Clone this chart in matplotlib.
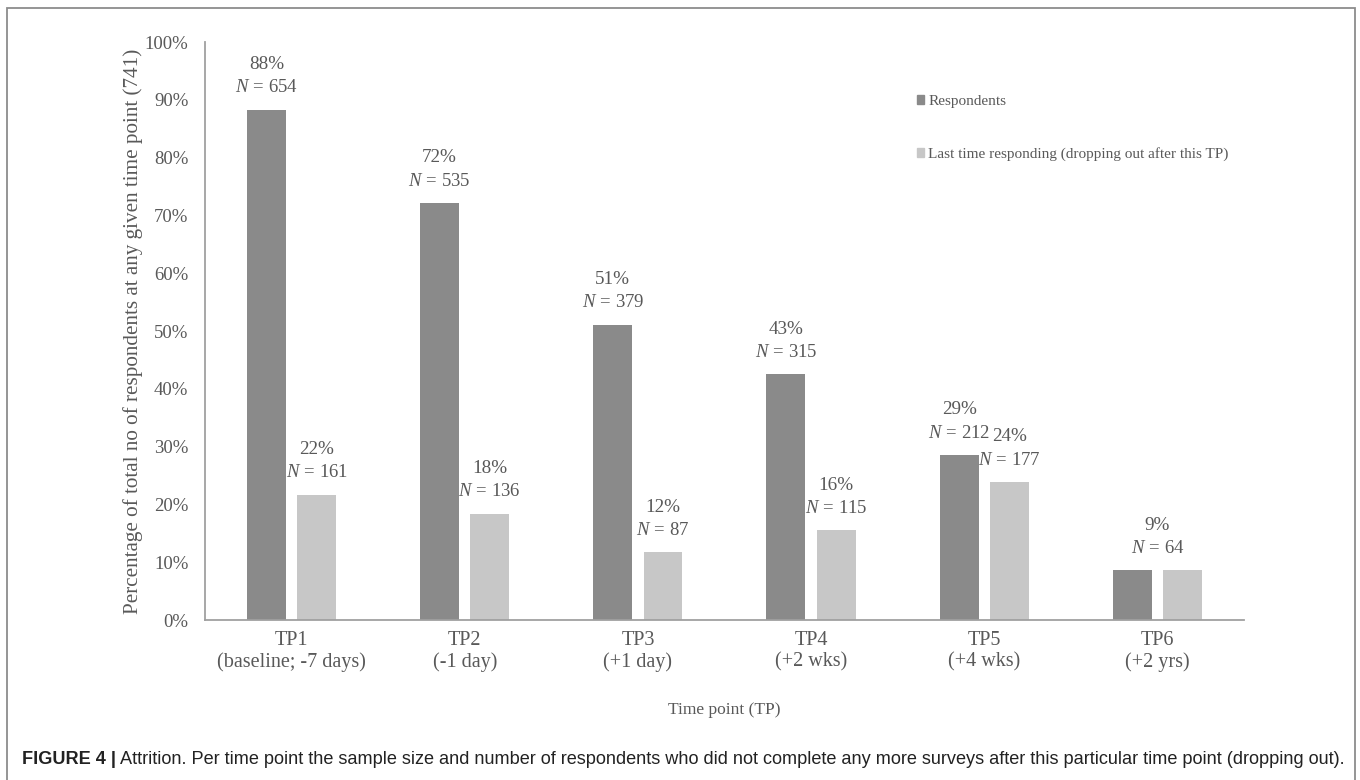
import matplotlib.pyplot as plt
import numpy as np
from matplotlib.patches import Patch, Rectangle

# values (percent of 741 respondents)
time_points = ["TP1\n(baseline; -7 days)", "TP2\n(-1 day)", "TP3\n(+1 day)",
               "TP4\n(+2 wks)", "TP5\n(+4 wks)", "TP6\n(+2 yrs)"]
respondents = [88.3, 72.2, 51.1, 42.5, 28.6, 8.6]
last_time = [21.7, 18.4, 11.7, 15.5, 23.9, 8.6]
resp_pct = ["88%", "72%", "51%", "43%", "29%", "9%"]
resp_n = ["654", "535", "379", "315", "212", "64"]
last_pct = ["22%", "18%", "12%", "16%", "24%", ""]
last_n = ["161", "136", "87", "115", "177", ""]
last_n_italic = [True, False, False, False, True, False]

dark = "#8a8a8a"
light = "#c7c7c7"
txt = "#595959"
serif = "Liberation Serif"

plt.rcParams["mathtext.fontset"] = "custom"
plt.rcParams["mathtext.rm"] = serif
plt.rcParams["mathtext.it"] = serif + ":italic"

fig = plt.figure(figsize=(13.6, 7.8), dpi=100)
ax = fig.add_axes([0.1507, 0.2051, 0.764, 0.741])

x = np.arange(len(time_points))
w = 0.225
off = 0.145
ax.bar(x - off, respondents, w, color=dark, label="Respondents")
ax.bar(x + off, last_time, w, color=light,
       label="Last time responding (dropping out after this TP)")

ax.set_xlim(-0.5, len(time_points) - 0.5)
ax.set_ylim(0, 100)
ax.set_yticks(range(0, 101, 10))
ax.set_yticklabels([f"{v}%" for v in range(0, 101, 10)])
ax.set_xticks(x)
ax.set_xticklabels(time_points, linespacing=1.15)
ax.tick_params(length=0, labelcolor=txt)
ax.tick_params(axis="y", pad=12, labelsize=13.5)
ax.tick_params(axis="x", pad=8, labelsize=14.5)
for lab in ax.get_xticklabels() + ax.get_yticklabels():
    lab.set_family(serif)

for s in ["top", "right"]:
    ax.spines[s].set_visible(False)
for s in ["left", "bottom"]:
    ax.spines[s].set_color("#a0a0a0")
    ax.spines[s].set_linewidth(1.3)

def label(xc, top, pct, n, italic_num):
    num = r"\mathit{%s}" % n if italic_num else r"\mathrm{%s}" % n
    ax.annotate(pct, (xc, top), xytext=(0, 26.5), textcoords="offset points",
                ha="center", va="bottom", fontsize=13.8, color=txt, family=serif)
    ax.annotate(r"$\mathit{N}\,\mathrm{=}\,%s$" % num, (xc, top), xytext=(0, 9.5),
                textcoords="offset points", ha="center", va="bottom",
                fontsize=13.5, color=txt)

for i in range(len(time_points)):
    if last_pct[i]:
        label(x[i] - off, respondents[i], resp_pct[i], resp_n[i], False)
        label(x[i] + off, last_time[i], last_pct[i], last_n[i], last_n_italic[i])
    else:
        label(x[i], max(respondents[i], last_time[i]), resp_pct[i], resp_n[i], False)

ax.set_ylabel("Percentage of total no of respondents at any given time point (741)",
              family=serif, fontsize=15.2, color=txt, labelpad=1)
ax.set_xlabel("Time point (TP)", family=serif, fontsize=12.5, color=txt, labelpad=21.5)

handles = [Patch(color=dark), Patch(color=light)]
leg = fig.legend(handles, ["Respondents", "Last time responding (dropping out after this TP)"],
                 loc="upper left", bbox_to_anchor=(0.664, 0.896), frameon=False,
                 handlelength=0.5, handleheight=0.5, handletextpad=0.25,
                 labelspacing=2.55, prop={"family": serif, "size": 11})
for t in leg.get_texts():
    t.set_color(txt)

# frame around the figure
fig.patches.append(Rectangle((7 / 1360, -0.05), 1348 / 1360, 0.05 + 772 / 780,
                             transform=fig.transFigure, fill=False,
                             edgecolor="#8c8c8c", linewidth=1.3))

# caption
fig.canvas.draw()
r = fig.canvas.get_renderer()
t1 = fig.text(22 / 1360, 1 - 759 / 780, "FIGURE 4 |", family="Liberation Sans",
              weight="bold", fontsize=13.05, color="#222222", va="center")
bb = t1.get_window_extent(r)
fig.text((bb.x1 + 4) / 1360, 1 - 759 / 780,
         "Attrition. Per time point the sample size and number of respondents who did not "
         "complete any more surveys after this particular time point (dropping out).",
         family="Liberation Sans", fontsize=13.05, color="#222222", va="center")

fig.savefig("out.png", dpi=100)
